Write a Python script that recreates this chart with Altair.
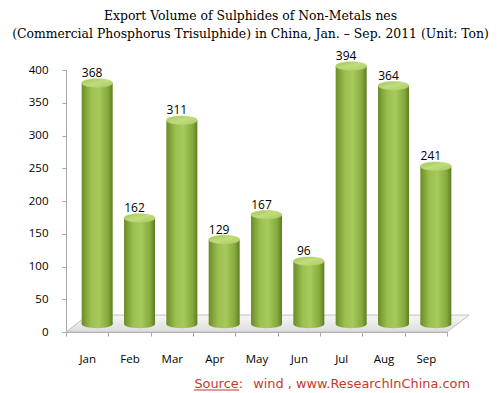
import altair as alt
import pandas as pd

months = ["Jan", "Feb", "Mar", "Apr", "May", "Jun", "Jul", "Aug", "Sep"]
values = [368, 162, 311, 129, 167, 96, 394, 364, 241]
y_ticks = [0, 50, 100, 150, 200, 250, 300, 350, 400]
title_lines = [
    "Export Volume of Sulphides of Non-Metals nes",
    "(Commercial Phosphorus Trisulphide) in China, Jan. \u2013 Sep. 2011  (Unit: Ton)",
]
source_label = "Source:"
source_text = "wind , www.ResearchInChina.com"

df = pd.DataFrame({"month": months, "value": values})

W, H = 381, 262
DX, DY = 10, -8  # 3D depth offset of the bars

xenc = alt.X("month:N", sort=months, title=None,
             scale=alt.Scale(paddingInner=0, paddingOuter=0),
             axis=alt.Axis(tickBand="extent", labelAngle=0, labelPadding=17,
                           tickSize=4, domainColor="#a6a6a6", tickColor="#a6a6a6",
                           labelFont="Open Sans", labelFontSize=11.5,
                           labelColor="#000000"))
yscale = alt.Scale(domain=[0, 400], nice=False)
yaxis = alt.Axis(values=y_ticks, grid=False, tickSize=4, labelPadding=14,
                 domainColor="#a6a6a6", tickColor="#a6a6a6",
                 labelFont="Open Sans", labelFontSize=11.5,
                 labelColor="#000000", labelOverlap=False)
yenc = alt.Y("value:Q", title=None, scale=yscale, axis=yaxis)

body_grad = alt.Gradient(gradient="linear", x1=0, x2=1, y1=0, y2=0, stops=[
    alt.GradientStop(offset=0, color="#6c8c27"),
    alt.GradientStop(offset=0.3, color="#9cc050"),
    alt.GradientStop(offset=0.55, color="#a6ca5b"),
    alt.GradientStop(offset=0.85, color="#86a83c"),
    alt.GradientStop(offset=1, color="#5e7c20"),
])
top_grad = alt.Gradient(gradient="linear", x1=0, x2=1, y1=0, y2=1, stops=[
    alt.GradientStop(offset=0, color="#a2c55a"),
    alt.GradientStop(offset=0.5, color="#c0dc7c"),
    alt.GradientStop(offset=1, color="#a9cb62"),
])
floor_grad = alt.Gradient(gradient="linear", x1=0, x2=0, y1=0, y2=1, stops=[
    alt.GradientStop(offset=0, color="#f7f7f7"),
    alt.GradientStop(offset=1, color="#dcdcdc"),
])

ellipse = "M -1 0 A 1 0.27 0 1 1 1 0 A 1 0.27 0 1 1 -1 0 Z"
bw = 31

floor_path = "M -1 0 L 0.891 0 L 1 -0.084 L -0.891 -0.084 Z"
floor = alt.Chart(pd.DataFrame({"a": [0]})).mark_point(
    shape=floor_path, size=403 ** 2, filled=True, fill=floor_grad,
    stroke="#c0c0c0", strokeWidth=1, opacity=1
).encode(x=alt.value(W / 2 + 11), y=alt.value(H))

base = alt.Chart(df)

bottom = base.mark_point(shape=ellipse, size=bw ** 2, filled=True, fill=body_grad,
                         opacity=1, strokeWidth=0, xOffset=DX, yOffset=DY).encode(
    x=xenc, y=alt.Y(datum=0, scale=yscale, axis=yaxis, title=None))

bars = base.mark_bar(size=bw, fill=body_grad, xOffset=DX, x2Offset=DX,
                     yOffset=DY, y2Offset=DY).encode(
    x=xenc, y=yenc, y2=alt.Y2(datum=0))

tops = base.mark_point(shape=ellipse, size=bw ** 2, filled=True, fill=top_grad,
                       stroke="#b9d676", strokeWidth=0.6, opacity=1,
                       xOffset=DX, yOffset=DY).encode(x=xenc, y=yenc)

labels = base.mark_text(font="Open Sans", fontSize=12, color="#000000",
                        baseline="alphabetic", dy=-14, xOffset=5).encode(
    x=xenc, y=yenc, text="value:Q")

src_df = pd.DataFrame({"a": [0]})
src1 = alt.Chart(src_df).mark_text(font="DejaVu Sans", fontSize=12.9,
                                   color="#c8372d", align="right",
                                   baseline="alphabetic").encode(
    x=alt.value(404), y=alt.value(318), text=alt.value(source_text))
src2 = alt.Chart(src_df).mark_text(font="DejaVu Sans", fontSize=12.9,
                                   color="#c8372d", align="right",
                                   baseline="alphabetic").encode(
    x=alt.value(177), y=alt.value(318), text=alt.value(source_label))
underline = alt.Chart(src_df).mark_rule(color="#c8372d", strokeWidth=1).encode(
    x=alt.value(128), x2=alt.value(173), y=alt.value(320))

chart = alt.layer(floor, bottom, bars, tops, labels, src1, src2, underline).properties(
    width=W, height=H,
    autosize=alt.AutoSizeParams(type="none"),
    padding={"left": 58, "top": 62, "right": 46, "bottom": 61},
    title=alt.TitleParams(text=title_lines, font="DejaVu Serif", fontSize=12.4,
                          fontWeight="normal", color="#000000", lineHeight=18,
                          anchor="middle", dx=-6, offset=10),
).configure(background="white").configure_view(stroke=None)

chart.save("out.html", embed_options={"renderer": "svg", "actions": False})
